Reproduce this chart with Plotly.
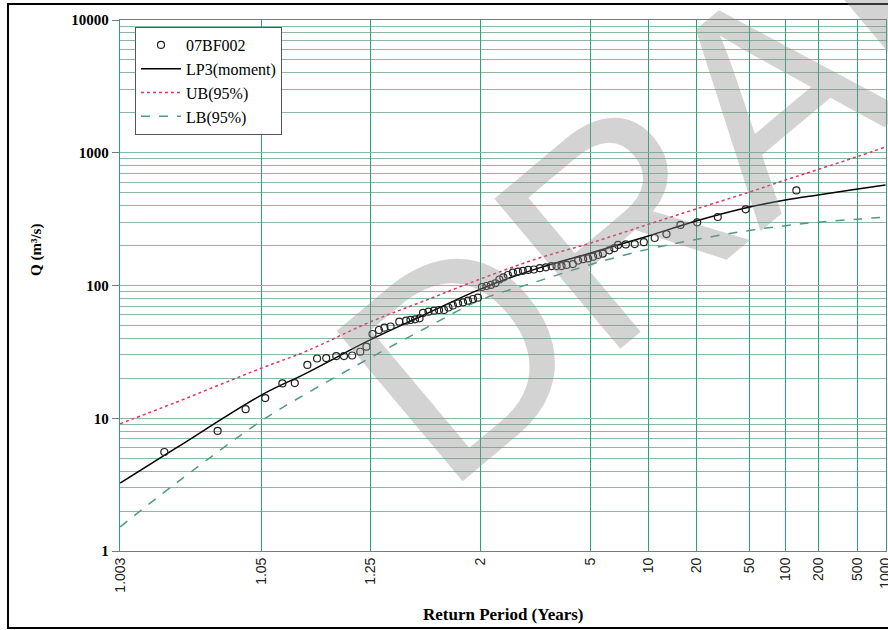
import plotly.graph_objects as go
from statistics import NormalDist

# ---------------- data ----------------
obs_T = [1.008, 1.023, 1.038, 1.053, 1.070, 1.085, 1.103, 1.119, 1.136, 1.157,
         1.175, 1.196, 1.219, 1.238, 1.258, 1.281, 1.302, 1.327, 1.366, 1.399,
         1.422, 1.447, 1.473, 1.494, 1.529, 1.567, 1.603, 1.641, 1.677, 1.715,
         1.761, 1.809, 1.859, 1.913, 1.970, 2.019, 2.076, 2.136, 2.200, 2.260,
         2.323, 2.398, 2.486, 2.581, 2.681, 2.795, 2.927, 3.076, 3.238, 3.405,
         3.563, 3.731, 3.912, 4.160, 4.386, 4.615, 4.861, 5.128, 5.417, 5.708,
         6.143, 6.510, 6.812, 7.479, 8.368, 9.407, 10.89, 12.84, 15.75, 20.37,
         28.49, 46.5, 125.5]
obs_Q = [5.57, 8.02, 11.7, 14.2, 18.3, 18.4, 25.2, 28.2, 28.4, 29.4,
         29.4, 29.7, 31.7, 34.6, 43.1, 46.2, 48.1, 49.1, 53.4, 54.3,
         55.0, 55.6, 56.6, 62.1, 63.5, 64.6, 65.4, 65.4, 68.3, 70.7,
         73.4, 74.5, 76.8, 79.1, 80.9, 97.4, 99.1, 101, 104, 111,
         115, 120, 125, 127, 129, 131, 132, 135, 137, 140,
         140, 140, 143, 145, 154, 158, 160, 165, 170, 174,
         184, 191, 202, 204, 205, 212, 228, 244, 286, 299,
         328, 375, 520]

curve_T = [1.003, 1.01, 1.05, 1.1, 1.25, 1.5, 2, 3, 5, 10, 20, 50, 100, 200, 500, 1000]
lp3_Q = [3.25, 5.9, 15.0, 21.7, 38.9, 60, 94, 134, 176, 236, 306, 390, 441, 481, 533, 572]
ub_Q = [9.1, 13.1, 23.9, 31.8, 53.1, 76.4, 112, 159, 209, 289, 377, 506, 623, 748, 937, 1105]
lb_Q = [1.52, 3.2, 9.6, 15.2, 28.5, 47, 77.8, 107, 144, 188, 222, 260, 282, 300, 316, 328]

tick_T = [1.003, 1.05, 1.25, 2, 5, 10, 20, 50, 100, 200, 500, 1000]
tick_text = ["1.003", "1.05", "1.25", "2", "5", "10", "20", "50", "100", "200", "500", "1000"]
y_ticks = [1, 10, 100, 1000, 10000]
y_minor = [m * 10 ** k for k in range(4) for m in range(2, 10)]

nd = NormalDist()


def rp_to_z(t):
    return nd.inv_cdf(1.0 - 1.0 / t)


W, H = 888, 630
L, R, T, B = 120, 2, 20, 79
pw, ph = W - L - R, H - T - B


def px(x):
    return (x - L) / pw


def py(y):
    return (H - B - y) / ph


fig = go.Figure()

fig.add_trace(go.Scatter(
    x=[rp_to_z(t) for t in curve_T], y=lp3_Q, mode="lines", name="LP3(moment)",
    line=dict(color="black", width=1.5, shape="spline"), legendrank=2, legendgroup="b"))
fig.add_trace(go.Scatter(
    x=[rp_to_z(t) for t in curve_T], y=ub_Q, mode="lines", name="UB(95%)",
    line=dict(color="#e3335e", width=1.5, dash="dot", shape="spline"), legendrank=3, legendgroup="c"))
fig.add_trace(go.Scatter(
    x=[rp_to_z(t) for t in curve_T], y=lb_Q, mode="lines", name="LB(95%)",
    line=dict(color="#4b9e80", width=1.5, dash="dash", shape="spline"), legendrank=4, legendgroup="d"))
fig.add_trace(go.Scatter(
    x=[rp_to_z(t) for t in obs_T], y=obs_Q, mode="markers", name="07BF002",
    marker=dict(symbol="circle-open", size=7, color="#222", line=dict(width=1.2)),
    legendrank=1, legendgroup="a"))

green = "#27a57a"
hgrid = "#8db8a0"
zmin, zmax = rp_to_z(1.003), rp_to_z(1000)

fig.update_layout(
    width=W, height=H,
    margin=dict(l=L, r=R, t=T, b=B, autoexpand=False),
    paper_bgcolor="white", plot_bgcolor="white",
    showlegend=True,
    legend=dict(x=px(135), y=py(27), xanchor="left", yanchor="top",
                bgcolor="white", bordercolor="#555", borderwidth=1,
                font=dict(family="Liberation Serif", size=16, color="black"),
                itemwidth=40, tracegroupgap=7, traceorder="normal"),
    xaxis=dict(range=[zmin - 0.001, zmax + 0.004], tickmode="array",
               tickvals=[rp_to_z(t) for t in tick_T], ticktext=tick_text,
               tickangle=-90, showgrid=True, gridcolor=green, gridwidth=1.3,
               ticklabeloverflow="allow", automargin=False,
               zeroline=False, showline=True, mirror=True, linecolor="#7a7a7a", linewidth=1,
               ticks="", tickfont=dict(family="Liberation Sans", size=14, color="#222")),
    yaxis=dict(type="log", range=[0, 4], tickmode="array", tickvals=y_ticks,
               ticktext=[str(v) for v in y_ticks], automargin=False,
               showgrid=True, gridcolor=hgrid, gridwidth=1,
               minor=dict(tickmode="array", tickvals=y_minor, showgrid=True,
                          gridcolor=hgrid, gridwidth=1, ticks=""),
               zeroline=False, showline=True, mirror=True, linecolor=green, linewidth=1.3,
               ticks="outside", ticklen=7, tickcolor="#777",
               tickfont=dict(family="Liberation Serif", size=15, color="black", weight="bold")),
    annotations=[
        dict(text="Q (m³/s)", x=px(37), y=py(250), xref="paper", yref="paper",
             xanchor="center", yanchor="middle",
             showarrow=False, textangle=-90,
             font=dict(family="Liberation Serif", size=15, color="black", weight="bold")),
        dict(text="Return Period (Years)", x=0.5, y=py(614), xref="paper", yref="paper",
             xanchor="center", yanchor="middle", showarrow=False,
             font=dict(family="Liberation Serif", size=17, color="black", weight="bold")),
        dict(text="DRAFT", x=px(745), y=py(115), xref="paper", yref="paper",
             xanchor="center", yanchor="middle",
             showarrow=False, textangle=-40,
             font=dict(family="Liberation Sans", size=285, color="rgba(140,140,140,0.38)")),
    ],
    shapes=[dict(type="rect", xref="paper", yref="paper",
                 x0=px(8), x1=px(890), y0=py(628), y1=py(4),
                 line=dict(color="black", width=2), fillcolor="rgba(0,0,0,0)")],
)

fig.write_html("out.html")
